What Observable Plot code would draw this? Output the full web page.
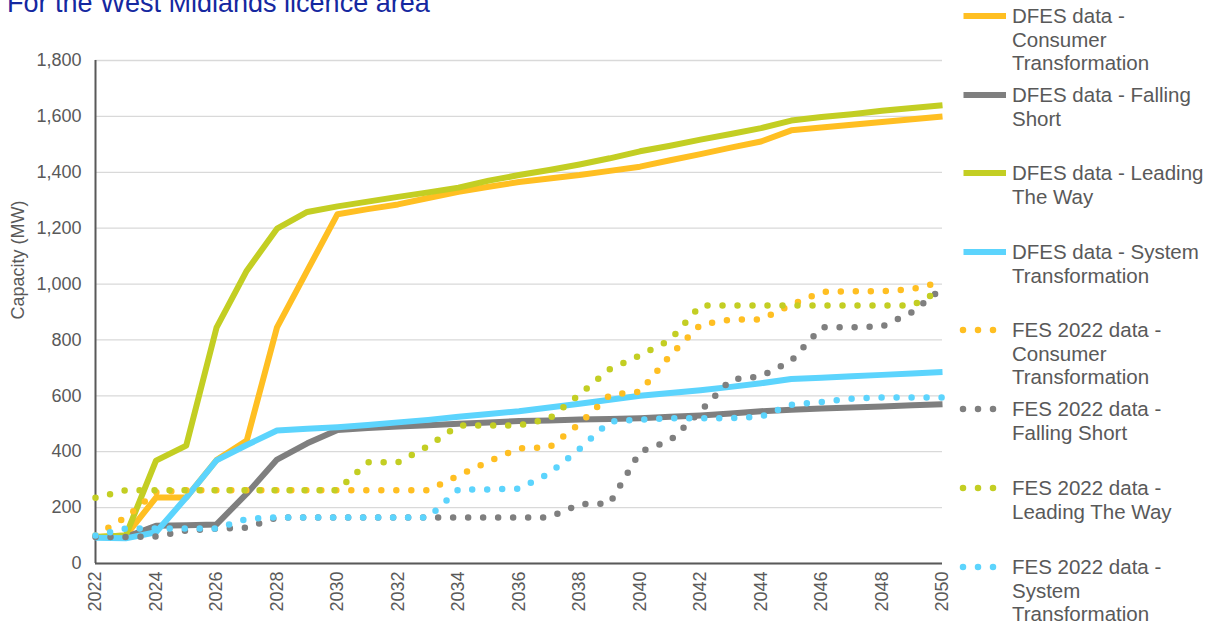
<!DOCTYPE html>
<html><head><meta charset="utf-8">
<script src="https://cdn.jsdelivr.net/npm/d3@7"></script>
<script src="https://cdn.jsdelivr.net/npm/@observablehq/plot@0.6"></script>
<style>
body{margin:0;background:#fff;font-family:"Liberation Sans",Arial,sans-serif;}
#wrap{position:relative;width:1216px;height:623px;overflow:hidden;background:#fff;}
#title{position:absolute;left:7px;top:-10px;font-size:27px;line-height:1;color:#1528a0;white-space:nowrap;}
#chart{position:absolute;left:0;top:0;}
.leg{position:absolute;left:1012px;font-size:20.5px;line-height:23.5px;color:#595959;white-space:nowrap;}
.sw{position:absolute;left:956px;}
</style></head><body>
<div id="wrap"><div id="chart"></div><div id="title">For the West Midlands licence area</div><div id="legend"></div></div>
<script>
const years = [2022,2023,2024,2025,2026,2027,2028,2029,2030,2031,2032,2033,2034,2035,2036,2037,2038,2039,2040,2041,2042,2043,2044,2045,2046,2047,2048,2049,2050];
const xTicks = [2022,2024,2026,2028,2030,2032,2034,2036,2038,2040,2042,2044,2046,2048,2050];
const yTicks = [0,200,400,600,800,1000,1200,1400,1600,1800];

const seriesNames = [
  "DFES data - Consumer Transformation",
  "DFES data - Falling Short",
  "DFES data - Leading The Way",
  "DFES data - System Transformation",
  "FES 2022 data - Consumer Transformation",
  "FES 2022 data - Falling Short",
  "FES 2022 data - Leading The Way",
  "FES 2022 data - System Transformation"
];
const legendLines = [
  ["DFES data -","Consumer","Transformation"],
  ["DFES data - Falling","Short"],
  ["DFES data - Leading","The Way"],
  ["DFES data - System","Transformation"],
  ["FES 2022 data -","Consumer","Transformation"],
  ["FES 2022 data -","Falling Short"],
  ["FES 2022 data -","Leading The Way"],
  ["FES 2022 data -","System","Transformation"]
];
const seriesColors = ["#FFBF22","#7F7F7F","#C3CE23","#5CD4FD","#FFBF22","#7F7F7F","#C3CE23","#5CD4FD"];
const seriesDotted = [false,false,false,false,true,true,true,true];

const dfesCT = [95,100,236,236,370,440,845,1048,1250,1268,1285,1308,1330,1348,1365,1378,1390,1405,1420,1443,1465,1488,1510,1550,1560,1570,1580,1590,1600];
const dfesFS = [95,95,135,137,140,250,372,430,478,485,490,495,500,505,510,512,515,517,520,525,530,537,545,550,555,558,562,566,570];
const dfesLW = [95,100,368,422,844,1048,1198,1258,1278,1295,1312,1328,1345,1370,1390,1408,1428,1450,1475,1495,1517,1537,1558,1585,1598,1608,1620,1630,1640];
const dfesST = [92,90,112,236,369,424,476,482,488,496,505,514,525,535,545,558,572,586,600,610,620,632,645,660,665,670,675,680,685];
const fesCT = [100,165,255,262,262,262,262,262,262,262,262,262,315,365,412,415,500,603,615,745,855,873,873,925,972,974,974,982,1008];
const fesFS = [95,95,97,118,125,128,165,165,165,165,165,165,165,165,165,165,212,215,400,440,545,658,670,725,845,845,848,900,985];
const fesLW = [235,262,262,262,262,262,262,262,262,362,362,420,494,494,494,518,605,695,745,800,923,923,923,923,923,923,923,923,982];
const fesST = [100,125,125,125,125,160,165,165,165,165,165,165,265,265,268,322,410,508,515,520,520,520,525,568,578,590,594,594,594];

const seriesValues = [dfesCT, dfesFS, dfesLW, dfesST, fesCT, fesFS, fesLW, fesST];

const rows = [];
seriesValues.forEach((vals, s) => vals.forEach((v, i) => rows.push({series: seriesNames[s], year: years[i], value: v})));

const lineMarks = seriesNames.map((name, s) => Plot.line(rows.filter(r => r.series === name), {
  x: "year", y: "value",
  stroke: seriesColors[s],
  strokeWidth: seriesDotted[s] ? 6.5 : 6,
  strokeDasharray: seriesDotted[s] ? "0,15" : null,
  strokeLinecap: seriesDotted[s] ? "round" : "butt",
  strokeLinejoin: "round"
}));

const chart = Plot.plot({
  width: 960, height: 623,
  marginLeft: 95, marginRight: 18, marginTop: 60, marginBottom: 60,
  style: {fontFamily: '"Liberation Sans", Arial, sans-serif', fontSize: "18px", color: "#595959", background: "white"},
  x: {domain: [2022, 2050]},
  y: {domain: [0, 1800]},
  marks: [
    Plot.gridY(yTicks, {stroke: "#d9d9d9", strokeOpacity: 1, strokeWidth: 1.3}),
    Plot.axisY(yTicks, {tickFormat: d3.format(","), tickSize: 0, tickPadding: 14, label: null, fontSize: 18}),
    Plot.axisX(xTicks, {tickFormat: d => String(d), tickRotate: -90, tickSize: 0, tickPadding: 8, label: null, fontSize: 18}),
    Plot.text(["Capacity (MW)"], {frameAnchor: "left", textAnchor: "middle", rotate: -90, dx: -77, dy: -52, fontSize: 18, fill: "#595959"}),
    Plot.ruleX([2022], {y1: 0, y2: 1800, stroke: "#595959", strokeWidth: 2}),
    Plot.ruleY([0], {x1: 2022, x2: 2050, stroke: "#595959", strokeWidth: 2}),
    ...lineMarks
  ]
});
document.getElementById("chart").appendChild(chart);

// legend
const legendY = [16, 95, 173, 252, 330, 409, 488, 567];
const legend = document.getElementById("legend");
seriesNames.forEach((name, s) => {
  const y = legendY[s];
  const sw = document.createElementNS("http://www.w3.org/2000/svg", "svg");
  sw.setAttribute("width", 60); sw.setAttribute("height", 14);
  sw.setAttribute("class", "sw");
  sw.style.top = (y - 7) + "px";
  const ln = document.createElementNS("http://www.w3.org/2000/svg", "line");
  if (seriesDotted[s]) {
    ln.setAttribute("x1", 7); ln.setAttribute("x2", 37.5);
    ln.setAttribute("stroke-dasharray", "0,15");
    ln.setAttribute("stroke-linecap", "round");
    ln.setAttribute("stroke-width", 6.5);
  } else {
    ln.setAttribute("x1", 7.5); ln.setAttribute("x2", 50);
    ln.setAttribute("stroke-width", 6);
  }
  ln.setAttribute("y1", 7); ln.setAttribute("y2", 7);
  ln.setAttribute("stroke", seriesColors[s]);
  sw.appendChild(ln);
  legend.appendChild(sw);
  const t = document.createElement("div");
  t.className = "leg";
  t.style.top = (y - 11.75) + "px";
  t.innerHTML = legendLines[s].join("<br>");
  legend.appendChild(t);
});
</script>
</body></html>
